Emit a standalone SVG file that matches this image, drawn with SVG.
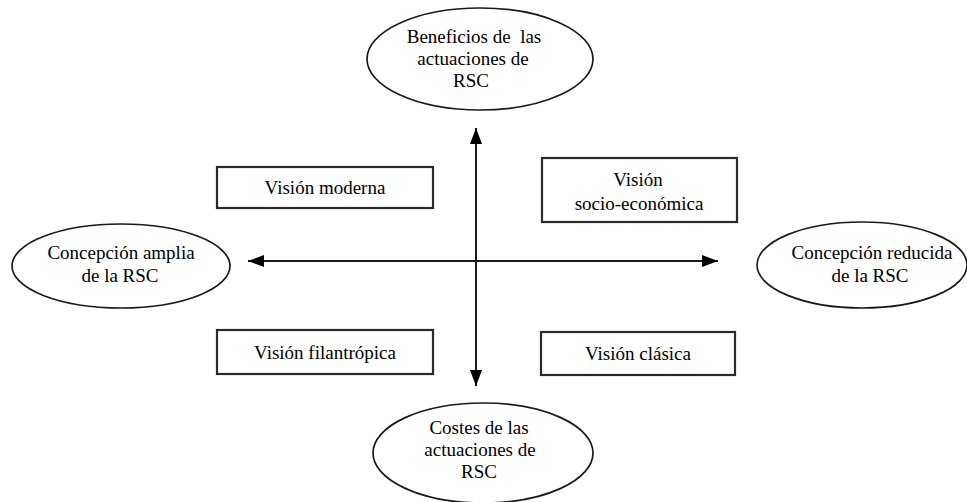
<svg xmlns="http://www.w3.org/2000/svg" width="967" height="502" viewBox="0 0 967 502">
<style>
.ell{fill:#fff;stroke:#1a1a1a;stroke-width:1.7}
.box{fill:#fff;stroke:#2a2a2a;stroke-width:2.2}
.t{font-family:'Liberation Serif','Times New Roman',serif;font-size:19px;fill:#000;text-anchor:middle}
.ln{stroke:#1a1a1a;stroke-width:2;fill:none}
</style>
<defs>
<marker id="ah" viewBox="0 0 16 12" refX="16" refY="6" markerWidth="16" markerHeight="12" markerUnits="userSpaceOnUse" orient="auto-start-reverse">
<path d="M0,0 L16,6 L0,12 Z" fill="#000"/>
</marker>
</defs>
<rect width="967" height="502" fill="#fff"/>
<g id="connectors">
<line class="ln" x1="476" y1="128" x2="476" y2="386" marker-start="url(#ah)" marker-end="url(#ah)"/>
<line class="ln" x1="248" y1="261" x2="718" y2="261" marker-start="url(#ah)" marker-end="url(#ah)"/>
</g>
<g id="beneficios">
<ellipse class="ell" cx="480" cy="59" rx="113" ry="51"/>
<text class="t" x="474" y="43" xml:space="preserve">Beneficios de  las</text>
<text class="t" x="473" y="65">actuaciones de</text>
<text class="t" x="471" y="87">RSC</text>
</g>
<g id="costes">
<ellipse class="ell" cx="483" cy="453" rx="110" ry="50"/>
<text class="t" x="479" y="434">Costes de las</text>
<text class="t" x="480" y="456">actuaciones de</text>
<text class="t" x="479" y="478">RSC</text>
</g>
<g id="amplia">
<ellipse class="ell" cx="121" cy="266" rx="109" ry="42"/>
<text class="t" x="121" y="259">Concepción amplia</text>
<text class="t" x="120" y="282">de la RSC</text>
</g>
<g id="reducida">
<ellipse class="ell" cx="862" cy="265" rx="105" ry="43"/>
<text class="t" x="872" y="259">Concepción reducida</text>
<text class="t" x="870" y="282">de la RSC</text>
</g>
<g id="moderna">
<rect class="box" x="217" y="167" width="216" height="41"/>
<text class="t" x="325" y="194">Visión moderna</text>
</g>
<g id="socioeconomica">
<rect class="box" x="542" y="158" width="195" height="64"/>
<text class="t" x="638" y="186">Visión</text>
<text class="t" x="639" y="210">socio-económica</text>
</g>
<g id="filantropica">
<rect class="box" x="217" y="330" width="216" height="44"/>
<text class="t" x="325" y="359">Visión filantrópica</text>
</g>
<g id="clasica">
<rect class="box" x="541" y="332" width="194" height="43"/>
<text class="t" x="638" y="360">Visión clásica</text>
</g>
</svg>
